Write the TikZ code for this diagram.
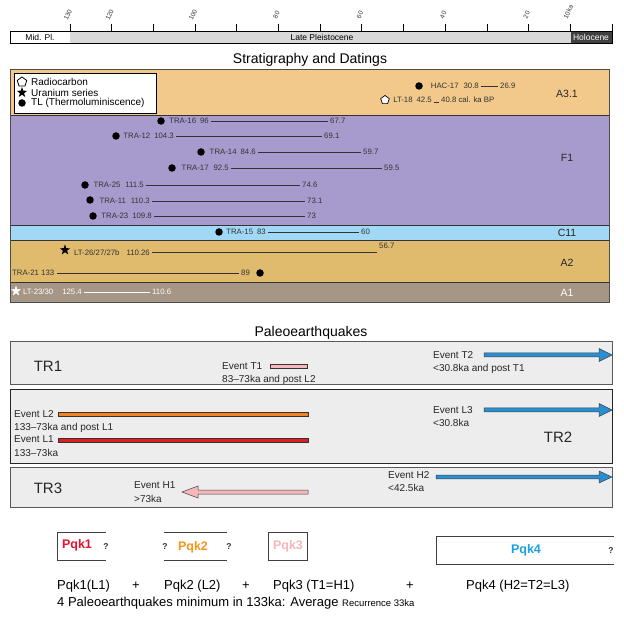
\documentclass[tikz,border=0pt]{standalone}
\usepackage{fontspec}
\setmainfont{Liberation Sans}
\usetikzlibrary{shapes.geometric,calc}
\definecolor{cA}{HTML}{F2C98A}
\definecolor{cF}{HTML}{A79BCD}
\definecolor{cC}{HTML}{A0D8F5}
\definecolor{cAtwo}{HTML}{E0BB6E}
\definecolor{cAone}{HTML}{A69685}
\definecolor{datc}{HTML}{333333}
\definecolor{boxfill}{HTML}{EDEDED}
\definecolor{evblue}{HTML}{2A8FD2}
\definecolor{evpink}{HTML}{F5B7B9}
\definecolor{evorange}{HTML}{F58220}
\definecolor{evred}{HTML}{E11B22}
\definecolor{pkred}{HTML}{E8112D}
\definecolor{pkorange}{HTML}{F7941D}
\definecolor{pkpink}{HTML}{F4B6B8}
\definecolor{pkblue}{HTML}{1BA1E2}
\definecolor{lpgray}{HTML}{D9D9D9}
\definecolor{holo}{HTML}{404040}
\newcommand{\myfs}[1]{\fontsize{#1}{#1}\selectfont}
\newcommand{\fatarrow}[6]{%
  \draw[draw=black!75, fill=#3, line width=0.5pt, line join=miter]
    let \p1=(#1), \p2=(#2) in
    ({\x1},{\y1+#4pt}) -- ({\x2-(#6pt)},{\y1+#4pt}) -- ({\x2-(#6pt)},{\y1+#5pt}) -- (\x2,\y2)
    -- ({\x2-(#6pt)},{\y1-#5pt}) -- ({\x2-(#6pt)},{\y1-#4pt}) -- ({\x1},{\y1-#4pt}) -- cycle;}
\begin{document}
\begin{tikzpicture}[x=1pt,y=-1pt,
  dat/.style={font=\myfs{7.8}, text=datc, inner xsep=2pt, inner ysep=0pt},
  datw/.style={font=\myfs{7.8}, text=white, inner xsep=2pt, inner ysep=0pt},
  datline/.style={draw=datc, line width=0.6pt},
  tldot/.style={circle, fill=black, minimum size=7.5pt, inner sep=0pt},
  ustar/.style={star, star points=5, star point ratio=2.5, fill=black, minimum size=11pt, inner sep=0pt},
  pent/.style={regular polygon, regular polygon sides=5, draw=black, fill=white, minimum size=10pt, inner sep=0pt, line width=0.8pt},
  leg/.style={font=\myfs{10}, anchor=west, inner sep=0pt},
  layerlab/.style={font=\myfs{10.5}, text=black!85},
  ttl/.style={font=\myfs{14}},
  trbox/.style={draw=black!65, fill=boxfill, line width=1pt},
  trlab/.style={font=\myfs{15}, text=black!85},
  evlab/.style={font=\myfs{10}, anchor=west, inner sep=0pt, text=black!85},
  evbar/.style={draw=black!80, line width=0.5pt},
  pqk/.style={font=\bfseries\myfs{12.5}},
  qmark/.style={font=\bfseries\myfs{8.5}, text=black!80},
  eqtext/.style={font=\myfs{13}, anchor=west, inner sep=0pt},
  axlab/.style={font=\myfs{6.5}, rotate=65, text=black!80, inner sep=0pt},
]
\useasboundingbox (0,0) rectangle (624,617);
% ---------- time axis ----------
\draw[line width=0.8pt, fill=white] (10,31) rectangle (70,43);
\fill[lpgray] (70,31) rectangle (571,43);
\fill[holo] (571,31) rectangle (612,43);
\draw[line width=0.9pt] (10,31) rectangle (612,43);
\foreach \k in {0,...,13} { \draw[line width=0.7pt] ({612-41.7*\k},24) -- ({612-41.7*\k},31); }
\foreach \k/\t in {13/130,12/120,10/100,8/80,6/60,4/40,2/20} { \node[axlab] (ax\k) at ({612-41.7*\k-2},15) {\t}; }
\node[axlab] (ax1) at ({612-41.7-2},12) {10ka};
\node[font=\myfs{8.5}] (midpl) at (40,37) {Mid. Pl.};
\node[font=\myfs{8.5}] (latepl) at (322,37) {Late Pleistocene};
\node[font=\myfs{8.5}, text=white] (holoc) at (591,37) {Holocene};
% ---------- stratigraphy ----------
\node[ttl] (strattitle) at (310,60) {Stratigraphy and Datings};
\fill[cA] (10,70) rectangle (609,115);
\fill[cF] (10,115) rectangle (609,225);
\fill[cC] (10,225) rectangle (609,240);
\fill[cAtwo] (10,240) rectangle (609,282);
\fill[cAone] (10,282) rectangle (609,303);
\draw[line width=0.8pt, black!80] (10,115) -- (609,115) (10,225) -- (609,225) (10,240) -- (609,240) (10,282) -- (609,282);
\draw[line width=1pt, black!70] (10,70) rectangle (609,303);
\node[layerlab] (la31) at (567,94) {A3.1};
\node[layerlab] (lf1) at (567,158) {F1};
\node[layerlab] (lc11) at (567,233) {C11};
\node[layerlab] (la2) at (567,263) {A2};
\node[layerlab, text=white] (la1) at (567,293) {A1};
% legend
\draw[line width=0.8pt, fill=white] (14,73) rectangle (156,113);
\node[pent] (lgp) at (22,82) {};
\node[ustar] (lgs) at (22,92.5) {};
\node[tldot] (lgd) at (22,103) {};
\node[leg] (lgpt) at (31,81.5) {Radiocarbon};
\node[leg] (lgst) at (31,92.5) {Uranium series};
\node[leg] (lgdt) at (31,103) {TL (Thermoluminiscence)};
% A3.1 datings
\node[tldot] (dhac) at (419,86) {};
\node[dat, anchor=east] (thac) at (481,86) {HAC-17\hspace{5pt}30.8};
\node[dat, anchor=west] (thace) at (498,86) {26.9};
\draw[datline] (thac.east) -- (thace.west);
\node[pent, minimum size=9pt, line width=0.7pt] (plt18) at (385,100) {};
\node[dat, anchor=base east] (tlt18) at (434,102.5) {LT-18\hspace{4pt}42.5};
\node[dat, anchor=base west] (tlt18e) at (439,102.5) {40.8 cal. ka BP};
\draw[datline] (tlt18.base east) -- (tlt18e.base west);
% F1 datings
\node[tldot] (d16) at (161,121) {};
\node[dat, anchor=east] (t16) at (211,121) {TRA-16\hspace{4pt}96};
\node[dat, anchor=west] (t16e) at (328,121) {67.7};
\draw[datline] (t16.east) -- (t16e.west);
\node[tldot] (d12) at (116,136) {};
\node[dat, anchor=east] (t12) at (176,136) {TRA-12\hspace{4pt}104.3};
\node[dat, anchor=west] (t12e) at (322,136) {69.1};
\draw[datline] (t12.east) -- (t12e.west);
\node[tldot] (d14) at (201,152) {};
\node[dat, anchor=east] (t14) at (258,152) {TRA-14\hspace{4pt}84.6};
\node[dat, anchor=west] (t14e) at (361,152) {59.7};
\draw[datline] (t14.east) -- (t14e.west);
\node[tldot] (d17) at (172,168) {};
\node[dat, anchor=east] (t17) at (231,168) {TRA-17\hspace{5pt}92.5};
\node[dat, anchor=west] (t17e) at (382,168) {59.5};
\draw[datline] (t17.east) -- (t17e.west);
\node[tldot] (d25) at (85,185) {};
\node[dat, anchor=east] (t25) at (146,185) {TRA-25\hspace{5pt}111.5};
\node[dat, anchor=west] (t25e) at (300,185) {74.6};
\draw[datline] (t25.east) -- (t25e.west);
\node[tldot] (d11) at (90,200) {};
\node[dat, anchor=east] (t11) at (152,201) {TRA-11\hspace{5pt}110.3};
\node[dat, anchor=west] (t11e) at (305,201) {73.1};
\draw[datline] (t11.east) -- (t11e.west);
\node[tldot] (d23) at (93,216) {};
\node[dat, anchor=east] (t23) at (154,216) {TRA-23\hspace{4pt}109.8};
\node[dat, anchor=west] (t23e) at (305,216) {73};
\draw[datline] (t23.east) -- (t23e.west);
% C11
\node[tldot] (d15) at (219,232) {};
\node[dat, anchor=east] (t15) at (268,232) {TRA-15\hspace{4pt}83};
\node[dat, anchor=west] (t15e) at (359,232) {60};
\draw[datline] (t15.east) -- (t15e.west);
% A2
\node[ustar] (s26) at (65,250) {};
\node[dat, anchor=east] (t26) at (152,252.5) {LT-26/27/27b\hspace{7pt}110.26};
\node[dat, anchor=south west] (t26e) at (377,249) {56.7};
\draw[datline] (t26.east) -- (377,252.5) coordinate (t26end);
\node[dat, anchor=west, inner xsep=0pt] (t21) at (12,273) {TRA-21 133};
\node[dat, anchor=west] (t21e) at (239,273) {89};
\node[tldot] (d21) at (260,273) {};
\draw[datline] (57,273) coordinate (t21start) -- (t21e.west);
% A1
\node[ustar, fill=white] (s23) at (16,291) {};
\node[datw, anchor=east] (t2330) at (84,292) {LT-23/30\hspace{9pt}125.4};
\node[datw, anchor=west] (t2330e) at (150,292) {110.6};
\draw[draw=white, line width=0.6pt] (t2330.east) -- (t2330e.west);
% ---------- paleoearthquakes ----------
\node[ttl] (paleotitle) at (311,333) {Paleoearthquakes};
\draw[trbox] (10,342) rectangle (612,385);
\draw[trbox, draw=black!85] (10,390) rectangle (612,463);
\draw[trbox] (10,467) rectangle (612,507);
\node[trlab] (tr1) at (48,366) {TR1};
\node[trlab] (tr2) at (558,437) {TR2};
\node[trlab] (tr3) at (48,488) {TR3};
% TR1
\node[evlab] (evt1) at (222,366) {Event T1};
\node[evlab] (evt1d) at (222,380) {83--73ka and post L2};
\coordinate (t1a) at (270,366); \coordinate (t1b) at (307,366);
\draw[evbar, fill=evpink] ($(t1a)+(0,-1.8)$) rectangle ($(t1b)+(0,1.8)$);
\node[evlab] (evt2) at (433,355) {Event T2};
\node[evlab] (evt2d) at (433,368.5) {<30.8ka and post T1};
\coordinate (t2a) at (484,355); \coordinate (t2b) at (612,355);
\fatarrow{t2a}{t2b}{evblue}{2}{6.5}{13}
% TR2
\node[evlab] (evl2) at (14,414) {Event L2};
\node[evlab] (evl2d) at (14,427.5) {133--73ka and post L1};
\coordinate (l2a) at (58,414); \coordinate (l2b) at (308,414);
\draw[evbar, fill=evorange] ($(l2a)+(0,-2)$) rectangle ($(l2b)+(0,2)$);
\node[evlab] (evl1) at (14,439.5) {Event L1};
\node[evlab] (evl1d) at (14,453) {133--73ka};
\coordinate (l1a) at (58,440); \coordinate (l1b) at (308,440);
\draw[evbar, fill=evred] ($(l1a)+(0,-2)$) rectangle ($(l1b)+(0,2)$);
\node[evlab] (evl3) at (433,410) {Event L3};
\node[evlab] (evl3d) at (433,423) {<30.8ka};
\coordinate (l3a) at (484,410); \coordinate (l3b) at (612,410);
\fatarrow{l3a}{l3b}{evblue}{2}{6.5}{13}
% TR3
\node[evlab] (evh1) at (134,485) {Event H1};
\node[evlab] (evh1d) at (134,499) {>73ka};
\coordinate (h1a) at (308,492); \coordinate (h1b) at (182,492);
\fatarrow{h1a}{h1b}{evpink}{2}{6}{-16}
\node[evlab] (evh2) at (388,475) {Event H2};
\node[evlab] (evh2d) at (388,488) {<42.5ka};
\coordinate (h2a) at (436,477); \coordinate (h2b) at (612,477);
\fatarrow{h2a}{h2b}{evblue}{1.8}{6}{13}
% ---------- Pqk boxes ----------
\draw[line width=0.8pt, black!75] (106,532) -- (57,532) -- (57,560) -- (106,560);
\node[pqk, text=pkred] (pqk1) at (77,545) {Pqk1};
\node[qmark] (q1) at (106,547) {?};
\draw[line width=0.8pt, black!75] (164,532) -- (227,532) (164,560) -- (227,560);
\node[qmark] (q2a) at (165,547) {?};
\node[pqk, text=pkorange] (pqk2) at (193,547) {Pqk2};
\node[qmark] (q2b) at (229,547) {?};
\draw[line width=0.8pt, black!75] (268,532) rectangle (307,560);
\node[pqk, text=pkpink] (pqk3) at (288,546) {Pqk3};
\draw[line width=0.8pt, black!75] (614,536) -- (436,536) -- (436,564) -- (614,564);
\node[pqk, text=pkblue] (pqk4) at (526,550) {Pqk4};
\node[qmark] (q4) at (611,551) {?};
% ---------- summary ----------
\node[eqtext] (e1) at (57,586) {Pqk1(L1)};
\node[font=\myfs{13}] (p1) at (136,586) {+};
\node[eqtext] (e2) at (164,586) {Pqk2 (L2)};
\node[font=\myfs{13}] (p2) at (246,586) {+};
\node[eqtext] (e3) at (273,586) {Pqk3 (T1=H1)};
\node[font=\myfs{13}] (p3) at (410,586) {+};
\node[eqtext] (e4) at (466,586) {Pqk4 (H2=T2=L3)};
\node[eqtext, anchor=base west] (summ) at (57,606) {4 Paleoearthquakes minimum in 133ka: Average {\myfs{9.5}Recurrence 33ka}};
\end{tikzpicture}
\end{document}
